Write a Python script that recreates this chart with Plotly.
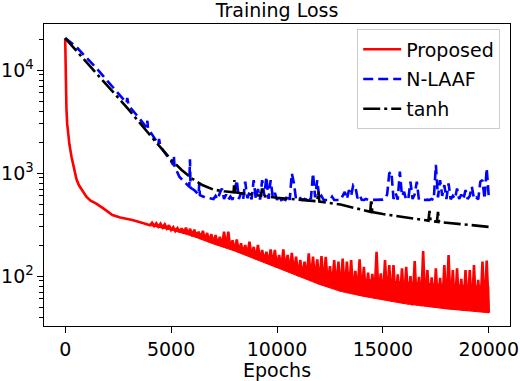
import plotly.graph_objects as go

# ---- data (epochs vs training loss, log scale) ----

# Proposed: steep early drop, then a noisy band every 100 epochs from 4000 on
red_head_epochs = [0, 30, 60, 95, 150, 200, 300, 400, 470, 535, 650, 800, 1000,
                   1200, 1450, 1800, 2230, 2600, 3170, 3700]
red_head_loss = [20400, 6300, 4200, 3000, 2300, 1900, 1430, 1150, 1000, 870, 760,
                 684, 590, 540, 508, 454, 391, 370, 350, 325]
red_tail_epochs = list(range(4000, 20001, 100))
red_tail_loss = [
    312, 330, 306, 325, 301, 322, 296, 318, 290, 312,
    280, 298, 273, 292, 268, 290, 262, 295, 256, 288,
    243, 282, 236, 270, 229, 275, 222, 262, 215, 255,
    206, 250, 200, 240, 195, 269, 190, 269, 184, 222,
    176, 227, 170, 208, 165, 200, 160, 215, 153, 192,
    146, 200, 142, 179, 137, 172, 132, 181, 128, 179,
    121, 160, 118, 181, 114, 160, 111, 168, 106, 154,
    100, 143, 97, 138, 95, 166, 92, 154, 89, 145,
    83, 156, 81, 154, 79, 125, 77, 143, 75, 138,
    71, 148, 70, 138, 69, 143, 67, 112, 66, 145,
    64, 123, 63, 108, 62, 105, 61, 172, 60, 106,
    59, 143, 58, 128, 57, 128, 56, 104, 55, 119,
    54, 123, 53, 100, 52, 140, 52, 98, 51, 175,
    51, 114, 50, 97, 50, 119, 49, 96, 49, 128,
    48, 160, 48, 114, 47, 119, 47, 94, 46, 114,
    46, 114, 46, 128, 45, 92, 45, 138, 45, 141,
    44,
]
# solid body of the noisy red band (lower and upper edge)
red_band_epochs = [4000, 5000, 6000, 7000, 8000, 9000, 10000, 11000, 12000,
                   13000, 14000, 15000, 16000, 17000, 18000, 19000, 20000]
red_band_low = [310, 280, 245, 205, 175, 146, 121, 100, 83, 71, 64, 59, 54, 51,
                48, 46, 44]
red_band_high = [318, 292, 272, 235, 200, 172, 145, 125, 110, 100, 94, 90, 87,
                 85, 83, 81, 80]

# N-LAAF: follows tanh early, then a ~550 floor with spikes
blue_head_epochs = [0, 500, 1000, 1500, 2000, 2500, 2900, 2930, 2960, 3000, 3500,
                    3850, 3880, 3910, 4000, 4400, 4430, 4460, 4500, 5000, 5100,
                    5130, 5160, 5390, 5860, 5890, 5920, 6100, 6300, 6330, 6360,
                    6600, 7000]
blue_head_loss = [20400, 17000, 13200, 10300, 7800, 6000, 4800, 5350, 4700, 4500,
                  3400, 2750, 3220, 2700, 2550, 1900, 2140, 1850, 1800, 1300, 1200,
                  1470, 1170, 920, 735, 1360, 720, 680, 620, 795, 610, 580, 560]
blue_tail_epochs = list(range(7100, 20001, 100))
blue_tail_loss = [
    600, 555, 640, 708, 560, 620, 552, 590, 550,
    660, 855, 560, 640, 555, 824, 570, 650, 555, 855,
    560, 700, 552, 855, 600, 920, 560, 855, 580, 640,
    550, 600, 548, 560, 548, 620, 550, 993, 795, 552,
    548, 570, 548, 560, 548, 600, 560, 993, 580, 855,
    560, 600, 550, 548, 550, 548, 590, 548, 548, 550,
    548, 600, 658, 560, 682, 600, 764, 737, 570, 611,
    550, 548, 560, 548, 548, 550, 548, 548, 550, 548,
    552, 560, 620, 993, 1030, 560, 640, 552, 1030, 600,
    658, 548, 560, 824, 560, 620, 824, 552, 548, 550,
    548, 552, 548, 560, 548, 1200, 580, 855, 600, 764,
    560, 795, 555, 600, 560, 708, 560, 620, 555, 682,
    560, 600, 737, 560, 580, 555, 824, 855, 560, 1110,
    580,
]

# tanh: smooth decay with a few small steps
black_epochs = [0, 1000, 2000, 3000, 4000, 5000, 5500, 6000, 6500, 7000, 7500,
                7950, 7990, 8030, 8500, 9000, 9250, 9290, 9330, 10000, 11000,
                11900, 11950, 12000, 13000, 13500, 14000, 14400, 14450, 14500,
                15000, 16000, 17150, 17200, 17250, 17550, 17600, 17650, 18000,
                19000, 20000]
black_loss = [20400, 12000, 7080, 4120, 2340, 1350, 1070, 880, 760, 690, 665,
              650, 855, 648, 630, 612, 600, 710, 598, 575, 555,
              532, 660, 528, 495, 465, 437, 420, 555, 418,
              400, 372, 345, 430, 343, 336, 420, 334, 330,
              315, 300]

x_ticks = [0, 5000, 10000, 15000, 20000]

FONT = "DejaVu Sans"
RED, BLUE, BLACK = "#ff0000", "#0000ff", "#000000"

fig = go.Figure()
# filled body of the red band, drawn under the red line
fig.add_trace(go.Scatter(
    x=red_band_epochs + red_band_epochs[::-1],
    y=red_band_low + red_band_high[::-1],
    mode="lines", fill="toself", fillcolor=RED,
    line=dict(color=RED, width=1), showlegend=False, hoverinfo="skip",
    legendgroup="p"))
fig.add_trace(go.Scatter(
    x=red_head_epochs + red_tail_epochs, y=red_head_loss + red_tail_loss,
    mode="lines", name="Proposed", legendgroup="p",
    line=dict(color=RED, width=2.6)))
fig.add_trace(go.Scatter(
    x=blue_head_epochs + blue_tail_epochs, y=blue_head_loss + blue_tail_loss,
    mode="lines", name="N-LAAF", legendgroup="n",
    line=dict(color=BLUE, width=2.6, dash="10px,5px")))
fig.add_trace(go.Scatter(
    x=black_epochs, y=black_loss,
    mode="lines", name="tanh", legendgroup="t",
    line=dict(color=BLACK, width=2.6, dash="17px,4px,3px,4px")))

fig.update_layout(
    width=520, height=381,
    margin=dict(l=44, r=10, t=24, b=55),
    paper_bgcolor="white", plot_bgcolor="white",
    font=dict(family=FONT, size=19, color="black"),
    title=dict(text="Training Loss", x=0.5, xref="paper", xanchor="center",
               y=0.972, yref="container", yanchor="middle",
               font=dict(size=19)),
    showlegend=True,
    legend=dict(x=0.979, y=0.982, xanchor="right", yanchor="top",
                bgcolor="rgba(255,255,255,0.8)", bordercolor="#cccccc",
                borderwidth=1, font=dict(size=19), tracegroupgap=2,
                itemwidth=38),
)
fig.update_xaxes(
    range=[-1000, 21000], tickvals=x_ticks, tickformat="d",
    showgrid=False, zeroline=False, automargin=False,
    showline=True, linecolor="black", linewidth=1.4, mirror=True,
    ticks="outside", ticklen=6, tickwidth=1.4, tickcolor="black",
    tickfont=dict(size=19),
    title=dict(text="Epochs", font=dict(size=19), standoff=2),
)
fig.update_yaxes(
    type="log", range=[1.515, 4.447], dtick=1, exponentformat="power",
    showgrid=False, zeroline=False, automargin=False,
    showline=True, linecolor="black", linewidth=1.4, mirror=True,
    ticks="outside", ticklen=6, tickwidth=1.4, tickcolor="black",
    tickfont=dict(size=15.2),
    minor=dict(ticks="outside", ticklen=3.5, tickwidth=1, tickcolor="black",
               showgrid=False),
)

# the page body has a default 8px margin; drop it so the figure sits at 0,0
fig.write_html("out.html", config={"displayModeBar": False},
               post_script="document.body.style.margin='0';")
